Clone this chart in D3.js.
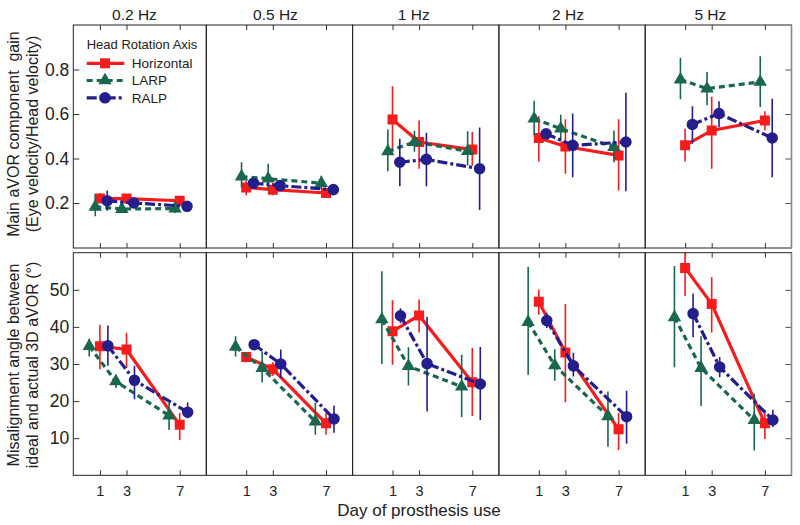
<!DOCTYPE html>
<html><head><meta charset="utf-8">
<script src="https://cdn.jsdelivr.net/npm/d3@7"></script>
<style>body{margin:0;background:#fff}svg{display:block}text{font-family:"Liberation Sans",Arial,sans-serif;fill:#222}</style>
</head><body><svg id="c" width="800" height="525"></svg>
<script>
const freqs = ["0.2 Hz","0.5 Hz","1 Hz","2 Hz","5 Hz"];
const days = [1,3,7];
const seriesNames = ["Horizontal","LARP","RALP"];
const gainTicks = [0.2,0.4,0.6,0.8];
const angleTicks = [10,20,30,40,50];

// Gain (top row): [frequency][day]
const gainH    = [[0.22,0.22,0.21],[0.27,0.26,0.245],[0.575,0.474,0.44],[0.492,0.454,0.414],[0.459,0.526,0.571]];
const gainHLo  = [[0.20,0.205,0.195],[0.235,0.235,0.23],[0.43,0.354,0.369],[0.387,0.331,0.256],[0.387,0.354,0.526]];
const gainHHi  = [[0.245,0.235,0.22],[0.30,0.29,0.26],[0.725,0.571,0.519],[0.59,0.576,0.576],[0.534,0.677,0.612]];
const gainL    = [[0.183,0.173,0.175],[0.319,0.309,0.289],[0.432,0.474,0.433],[0.579,0.534,0.451],[0.755,0.714,0.744]];
const gainLLo  = [[0.14,0.155,0.155],[0.27,0.263,0.263],[0.343,0.43,0.369],[0.504,0.481,0.383],[0.666,0.639,0.632]];
const gainLHi  = [[0.24,0.195,0.20],[0.383,0.376,0.323],[0.53,0.525,0.522],[0.659,0.597,0.526],[0.853,0.789,0.86]];
const gainR    = [[0.21,0.20,0.185],[0.289,0.278,0.26],[0.383,0.396,0.354],[0.511,0.459,0.474],[0.553,0.602,0.492]];
const gainRLo  = [[0.165,0.185,0.175],[0.27,0.26,0.245],[0.275,0.275,0.169],[0.49,0.316,0.253],[0.466,0.541,0.316]];
const gainRHi  = [[0.256,0.215,0.195],[0.31,0.295,0.275],[0.489,0.516,0.539],[0.53,0.602,0.695],[0.635,0.657,0.669]];

// Misalignment angle (bottom row)
const angH    = [[34.8,33.9,13.6],[31.9,28.6,14.0],[38.8,43.1,25.1],[46.8,33.1,12.4],[55.9,46.2,14.0]];
const angHLo  = [[28.6,28.9,9.5],[30.5,26.8,10.9],[29.8,38.5,16.0],[43.3,19.7,6.8],[48.3,38.5,9.8]];
const angHHi  = [[40.6,38.4,16.8],[33.2,30.5,16.8],[47.2,47.4,34.3],[50.1,46.2,16.8],[62,53.4,17.4]];
const angL    = [[34.8,25.3,16.1],[34.6,28.9,14.5],[42.0,29.4,23.9],[41.3,29.6,15.9],[42.6,28.9,14.9]];
const angLLo  = [[32,23.5,12.2],[32,25,10.9],[30,24.2,15.7],[27.1,25.5,7.7],[29.1,18.7,6.7]];
const angLHi  = [[36.8,27.1,19.5],[37.5,33.4,19.5],[55,34.5,32.5],[56.2,34.0,22.6],[56.4,37.5,22]];
const angR    = [[34.9,25.6,17.0],[35.2,30.0,15.2],[43.0,30.1,24.6],[41.7,29.5,15.8],[43.6,29.2,14.9]];
const angRLo  = [[29.5,20.5,15.4],[34,26.2,11.5],[41,17.2,14.9],[39.7,26.6,8.5],[37.2,26.4,13]];
const angRHi  = [[40.4,29.5,19.6],[36.4,33.9,18.8],[45,42.7,34.6],[43.8,33,22.8],[49,31.9,17.7]];

// horizontal jitter (days) per series per row
const jitterTop = [0, -0.35, 0.55];
const jitterBottom = [0, -0.8, 0.6];
const titleAt = [3.6, 3.2, 2.6, 3.2, 2.9];

const colors = ["#f41c1c", "#19674e", "#231e8c"];
const dashes = [null, "6,4", "10,3,3,3"];
const symbols = [d3.symbolSquare, d3.symbolTriangle, d3.symbolCircle];
const symSize = [100, 78, 105];

const svg = d3.select("#c");
const left = 73.3, pxPerDay = 13.3;
const domains = freqs.map((f,i)=> i===0 ? [-1,9] : [-2,9]);
let xcur = left;
const xScales = domains.map(dm => {
  const w = (dm[1]-dm[0])*pxPerDay;
  const s = d3.scaleLinear().domain(dm).range([xcur, xcur+w]);
  xcur += w;
  return s;
});
const rows = [
  {y: d3.scaleLinear().domain([0,1]).range([247.5,25]), top:25, bot:248, ticks:gainTicks, fmt:d3.format(".1f"),
   m:[gainH,gainL,gainR], lo:[gainHLo,gainLLo,gainRLo], hi:[gainHHi,gainLHi,gainRHi], jit:jitterTop},
  {y: d3.scaleLinear().domain([0,60]).range([475.3,252.7]), top:252.7, bot:475.3, ticks:angleTicks, fmt:d3.format("d"),
   m:[angH,angL,angR], lo:[angHLo,angLLo,angRLo], hi:[angHHi,angLHi,angRHi], jit:jitterBottom}
];

rows.forEach((row, ri) => {
  freqs.forEach((f, fi) => {
    const x = xScales[fi];
    const x0 = x.range()[0], x1 = x.range()[1];
    const g = svg.append("g");
    const cid = `clip${ri}_${fi}`;
    svg.append("clipPath").attr("id", cid).append("rect")
      .attr("x", x0).attr("y", row.top).attr("width", x1-x0).attr("height", row.bot-row.top);
    // ticks top/bottom
    g.append("g").attr("transform", `translate(0,${row.top})`)
      .call(d3.axisTop(x).tickValues(days).tickSize(-5).tickFormat(""))
      .call(a=>a.select(".domain").remove()).selectAll("line").attr("stroke","#333");
    const bAx = g.append("g").attr("transform", `translate(0,${row.bot})`)
      .call(d3.axisBottom(x).tickValues(days).tickSize(-5).tickPadding(10).tickFormat(ri===1 ? d3.format("d") : ""))
      .call(a=>a.select(".domain").remove());
    bAx.selectAll("line").attr("stroke","#333");
    bAx.selectAll("text").attr("font-size", 14.5).attr("fill","#222")
      .style("font-family","'Liberation Sans',Arial,sans-serif");
    if (fi === 0) {
      const la = g.append("g").attr("transform", `translate(${x0},0)`)
        .call(d3.axisLeft(row.y).tickValues(row.ticks).tickSize(-6).tickPadding(4).tickFormat(row.fmt))
        .call(a=>a.select(".domain").remove());
      la.selectAll("line").attr("stroke","#333");
      la.selectAll("text").attr("font-size", 17.5).attr("fill","#222")
        .style("font-family","'Liberation Sans',Arial,sans-serif");
    }
    if (fi === freqs.length-1) {
      g.append("g").attr("transform", `translate(${x1},0)`)
        .call(d3.axisRight(row.y).tickValues(row.ticks).tickSize(-6).tickFormat(""))
        .call(a=>a.select(".domain").remove()).selectAll("line").attr("stroke","#555");
    }
    // data
    const dg = g.append("g").attr("clip-path", `url(#${cid})`);
    seriesNames.forEach((s, si) => {
      const pts = days.map((d, di) => ({
        x: x(d + row.jit[si]), y: row.y(row.m[si][fi][di]),
        lo: row.y(row.lo[si][fi][di]), hi: row.y(row.hi[si][fi][di])
      }));
      dg.selectAll(null).data(pts).join("line")
        .attr("x1", p=>p.x).attr("x2", p=>p.x).attr("y1", p=>p.lo).attr("y2", p=>p.hi)
        .attr("stroke", colors[si]).attr("stroke-width", 1.6);
      dg.append("path").datum(pts)
        .attr("d", d3.line().x(p=>p.x).y(p=>p.y))
        .attr("fill","none").attr("stroke", colors[si]).attr("stroke-width", 3.2)
        .attr("stroke-dasharray", dashes[si]);
      dg.selectAll(null).data(pts).join("path")
        .attr("transform", p=>`translate(${p.x},${p.y})`)
        .attr("d", d3.symbol().type(symbols[si]).size(symSize[si])())
        .attr("fill", colors[si]);
    });
    // frame
    g.append("rect").attr("x", x0).attr("y", row.top).attr("width", x1-x0).attr("height", row.bot-row.top)
      .attr("fill","none").attr("stroke","#222").attr("stroke-width",1);
    if (fi === freqs.length-1) {
      g.append("line").attr("x1", x1).attr("x2", x1).attr("y1", row.top).attr("y2", row.bot)
        .attr("stroke","#888").attr("stroke-width",1.6);
    }
    if (ri === 0) {
      svg.append("text").attr("x", x(titleAt[fi])).attr("y", 20).attr("text-anchor","middle")
        .attr("font-size", 15.5).text(f);
    }
  });
});

// y labels
function ylab(lines, cy) {
  const t = svg.append("text").attr("transform", `translate(0,${cy}) rotate(-90)`)
    .attr("text-anchor","middle").attr("font-size", 16);
  lines.forEach((l, i) => t.append("tspan").attr("x", 0).attr("y", 19 + i*19).text(l));
}
ylab(["Main aVOR component\u00a0 gain", "(Eye velocity/Head velocity)"], 134);
ylab(["Misalignment angle between", "ideal and actual 3D aVOR (\u00b0)"], 365);

svg.append("text").attr("x", 419).attr("y", 515.5).attr("text-anchor","middle")
  .attr("font-size", 17).text("Day of prosthesis use");

// legend
const lg = svg.append("g");
lg.append("text").attr("x", 86.7).attr("y", 49).attr("font-size", 13).text("Head Rotation Axis");
seriesNames.forEach((s, si) => {
  const yy = [63.3, 80.5, 97.8][si];
  lg.append("line").attr("x1", 86.7).attr("x2", 124.3).attr("y1", yy).attr("y2", yy)
    .attr("stroke", colors[si]).attr("stroke-width", 3.2).attr("stroke-dasharray", dashes[si]);
  lg.append("path").attr("transform", `translate(105,${yy})`)
    .attr("d", d3.symbol().type(symbols[si]).size(symSize[si])()).attr("fill", colors[si]);
  lg.append("text").attr("x", 131.7).attr("y", yy + 4.8).attr("font-size", 13.5).text(s);
});
</script></body></html>
